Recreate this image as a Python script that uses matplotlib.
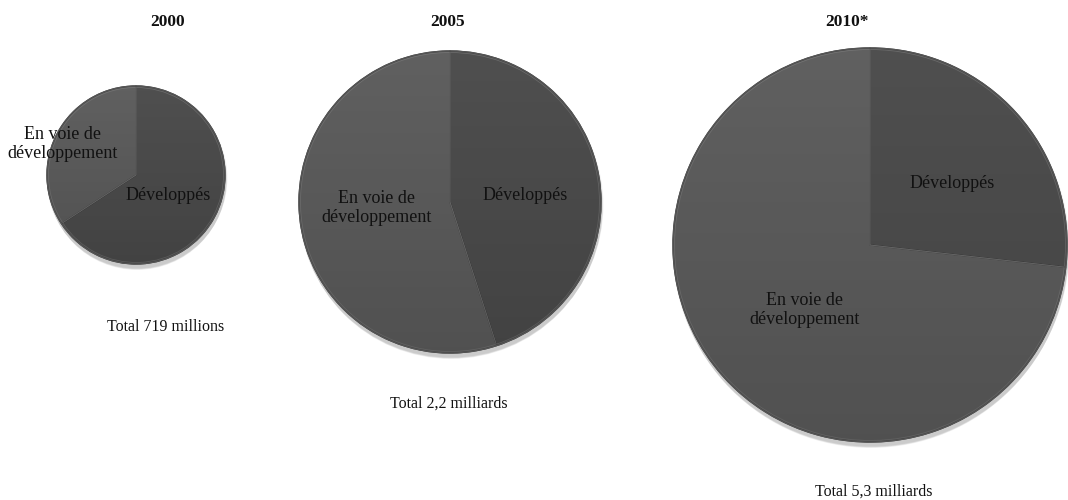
import numpy as np
import matplotlib.pyplot as plt
from matplotlib.patches import Circle, Wedge

plt.rcParams['font.family'] = ['Liberation Serif', 'DejaVu Serif']

# data: share of subscribers (%) per group
years = ['2000', '2005', '2010*']
developed = [65.8, 45.0, 26.8]
developing = [34.2, 55.0, 73.2]
totals = ['Total 719 millions', 'Total 2,2 milliards', 'Total 5,3 milliards']
labels = ['Développés', 'En voie de\ndéveloppement']

# layout in pixels (image coords, y down)
centers = [(136, 175), (450, 202), (870, 245)]
radii = [89, 151, 197]
title_xy = [(168, 22), (448, 22), (847, 22)]
total_xy = [(166, 327), (449, 404), (874, 492)]
dev_lab_xy = [(168, 196), (525, 195), (952, 183)]
devg_lab_xy = [(63, 144), (377, 208), (805, 310)]

W, H = 1068, 500
fig = plt.figure(figsize=(W / 100, H / 100), dpi=100)
ax = fig.add_axes([0, 0, 1, 1])
ax.set_xlim(0, W)
ax.set_ylim(0, H)
ax.set_aspect('equal')
ax.axis('off')

c_dev = '#4f4f4f'
c_devg = '#606060'

# dark overlay, transparent at the top, darker at the bottom
shade = np.zeros((100, 1, 4))
shade[:, 0, 3] = np.linspace(0.0, 0.16, 100)

for i in range(3):
    cx, cy = centers[i]
    r = radii[i]
    cy = H - cy
    # soft shadow under the pie
    for k in range(6):
        ax.add_patch(Circle((cx + 1, cy - 3 - k * 0.6), r + 1.5 - k * 0.3,
                            color='black', alpha=0.035, lw=0, zorder=1))
    wedges, _ = ax.pie([developed[i], developing[i]], colors=[c_dev, c_devg],
                       startangle=90, counterclock=False, center=(cx, cy),
                       radius=r, wedgeprops=dict(edgecolor='#3a3a3a', linewidth=0.9))
    for w in wedges:
        w.set_zorder(2)
        # light bevel along the slice borders
        ax.add_patch(Wedge((cx, cy), r - 1.5, w.theta1, w.theta2, fill=False,
                           edgecolor='#858585', linewidth=0.6, alpha=0.5, zorder=3))
    im = ax.imshow(shade, extent=(cx - r, cx + r, cy - r, cy + r), origin='upper',
                   zorder=4, aspect='auto')
    im.set_clip_path(Circle((cx, cy), r, transform=ax.transData))
    # soften the outer rim
    ax.add_patch(Circle((cx, cy), r, fill=False, edgecolor='#555555',
                        linewidth=1.0, zorder=4.5))

    ax.text(title_xy[i][0], H - title_xy[i][1], years[i], ha='center', va='center',
            fontsize=12.5, fontweight='bold', color='#111111', zorder=5)
    ax.text(total_xy[i][0], H - total_xy[i][1], totals[i], ha='center', va='center',
            fontsize=11.5, color='#111111', zorder=5)
    ax.text(dev_lab_xy[i][0], H - dev_lab_xy[i][1], labels[0], ha='center',
            va='center', fontsize=13, color='#111111', zorder=5)
    ax.text(devg_lab_xy[i][0], H - devg_lab_xy[i][1], labels[1], ha='center',
            va='center', fontsize=13, color='#111111', linespacing=1.15, zorder=5)

ax.set_xlim(0, W)
ax.set_ylim(0, H)
fig.savefig('out.png', dpi=100, facecolor='white')
